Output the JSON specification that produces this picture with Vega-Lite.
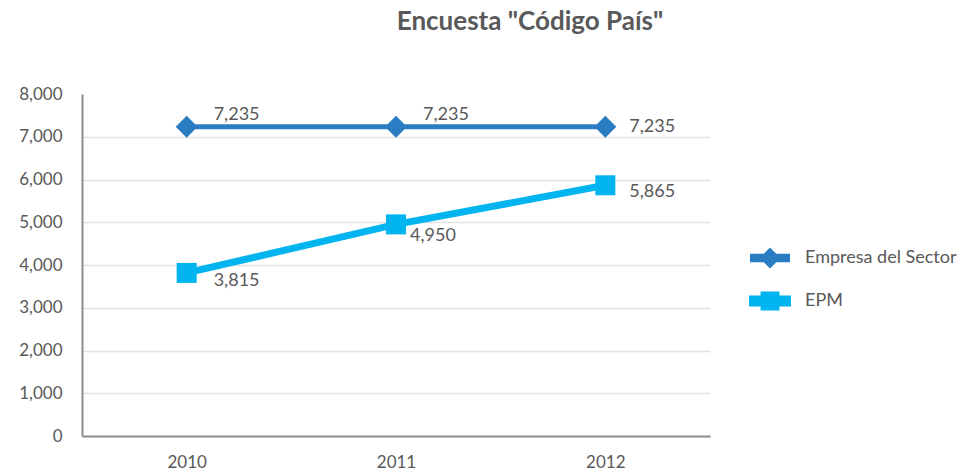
{
  "$schema": "https://vega.github.io/schema/vega-lite/v6.json",
  "autosize": {"type": "none"},
  "padding": {"left": 82, "top": 94, "right": 257, "bottom": 37},
  "width": 628,
  "height": 342,
  "background": "white",
  "title": {
    "text": "Encuesta \"Código País\"",
    "font": "Lato",
    "fontSize": 26,
    "fontWeight": "bold",
    "color": "#595959",
    "anchor": "middle",
    "dx": 134,
    "offset": 50
  },
  "config": {
    "view": {"stroke": null},
    "font": "Lato"
  },
  "data": {
    "values": [
      {"year": "2010", "serie": "Empresa del Sector", "value": 7235},
      {"year": "2011", "serie": "Empresa del Sector", "value": 7235},
      {"year": "2012", "serie": "Empresa del Sector", "value": 7235},
      {"year": "2010", "serie": "EPM", "value": 3815},
      {"year": "2011", "serie": "EPM", "value": 4950},
      {"year": "2012", "serie": "EPM", "value": 5865}
    ]
  },
  "encoding": {
    "x": {
      "field": "year", "type": "ordinal",
      "scale": {"type": "point", "padding": 0.5},
      "axis": {
        "title": null, "labelAngle": 0, "ticks": false,
        "domainColor": "#8c8c8c", "domainWidth": 2,
        "labelColor": "#595959", "labelFontSize": 17, "labelPadding": 18,
        "labelFont": "Lato"
      }
    },
    "y": {
      "field": "value", "type": "quantitative",
      "scale": {"domain": [0, 8000]},
      "axis": {
        "title": null, "tickCount": 8, "format": ",d", "ticks": false,
        "domainColor": "#8c8c8c", "domainWidth": 2,
        "gridColor": {"condition": {"test": "datum.value >= 8000", "value": "transparent"}, "value": "#e3e3e3"},
        "gridWidth": 1.5,
        "labelColor": "#595959", "labelFontSize": 17, "labelPadding": 20,
        "labelFont": "Lato"
      }
    }
  },
  "layer": [
    {
      "mark": {"type": "line", "strokeCap": "butt"},
      "encoding": {
        "color": {
          "field": "serie", "type": "nominal",
          "scale": {"domain": ["Empresa del Sector", "EPM"], "range": ["#2a7dc2", "#00b4ef"]},
          "legend": {
            "title": null, "orient": "none", "legendX": 667, "legendY": 144,
            "symbolSize": 1225, "symbolStrokeWidth": 0,
            "labelFontSize": 18, "labelColor": "#595959", "labelFont": "Lato",
            "rowPadding": 5, "labelOffset": 14,
            "encode": {
              "symbols": {
                "update": {
                  "shape": {"signal": "datum.value === 'EPM' ? 'M-1,-0.11H1V0.11H-1Z M-0.34,-0.34H0.34V0.34H-0.34Z' : 'M-1,-0.1H1V0.1H-1Z M0,-0.4L0.4,0L0,0.4L-0.4,0Z'"},
                  "fill": {"signal": "datum.value === 'EPM' ? '#00b4ef' : '#2a7dc2'"},
                  "fillOpacity": {"value": 1},
                  "opacity": {"value": 1},
                  "strokeWidth": {"value": 0}
                }
              }
            }
          }
        },
        "strokeWidth": {
          "field": "serie", "type": "nominal",
          "scale": {"domain": ["Empresa del Sector", "EPM"], "range": [5, 7]},
          "legend": null
        }
      }
    },
    {
      "transform": [{"filter": "datum.serie === 'Empresa del Sector'"}],
      "mark": {"type": "point", "filled": true, "opacity": 1, "shape": "diamond", "size": 480},
      "encoding": {
        "color": {"field": "serie", "type": "nominal", "legend": null}
      }
    },
    {
      "transform": [{"filter": "datum.serie === 'EPM'"}],
      "mark": {"type": "point", "filled": true, "opacity": 1, "shape": "square", "size": 400},
      "encoding": {
        "color": {"field": "serie", "type": "nominal", "legend": null}
      }
    },
    {
      "transform": [{"filter": "datum.serie === 'Empresa del Sector' && datum.year !== '2012'"}],
      "mark": {"type": "text", "align": "left", "baseline": "middle", "dx": 27, "dy": -12, "fontSize": 18, "color": "#595959", "font": "Lato"},
      "encoding": {"text": {"field": "value", "type": "quantitative", "format": ",d"}}
    },
    {
      "transform": [{"filter": "datum.year === '2012' && datum.serie === 'Empresa del Sector'"}],
      "mark": {"type": "text", "align": "left", "baseline": "middle", "dx": 24, "dy": 0, "fontSize": 18, "color": "#595959", "font": "Lato"},
      "encoding": {"text": {"field": "value", "type": "quantitative", "format": ",d"}}
    },
    {
      "transform": [{"filter": "datum.year === '2010' && datum.serie === 'EPM'"}],
      "mark": {"type": "text", "align": "left", "baseline": "middle", "dx": 27, "dy": 8, "fontSize": 18, "color": "#595959", "font": "Lato"},
      "encoding": {"text": {"field": "value", "type": "quantitative", "format": ",d"}}
    },
    {
      "transform": [{"filter": "datum.year === '2011' && datum.serie === 'EPM'"}],
      "mark": {"type": "text", "align": "left", "baseline": "middle", "dx": 14, "dy": 12, "fontSize": 18, "color": "#595959", "font": "Lato"},
      "encoding": {"text": {"field": "value", "type": "quantitative", "format": ",d"}}
    },
    {
      "transform": [{"filter": "datum.year === '2012' && datum.serie === 'EPM'"}],
      "mark": {"type": "text", "align": "left", "baseline": "middle", "dx": 24, "dy": 7, "fontSize": 18, "color": "#595959", "font": "Lato"},
      "encoding": {"text": {"field": "value", "type": "quantitative", "format": ",d"}}
    }
  ]
}
